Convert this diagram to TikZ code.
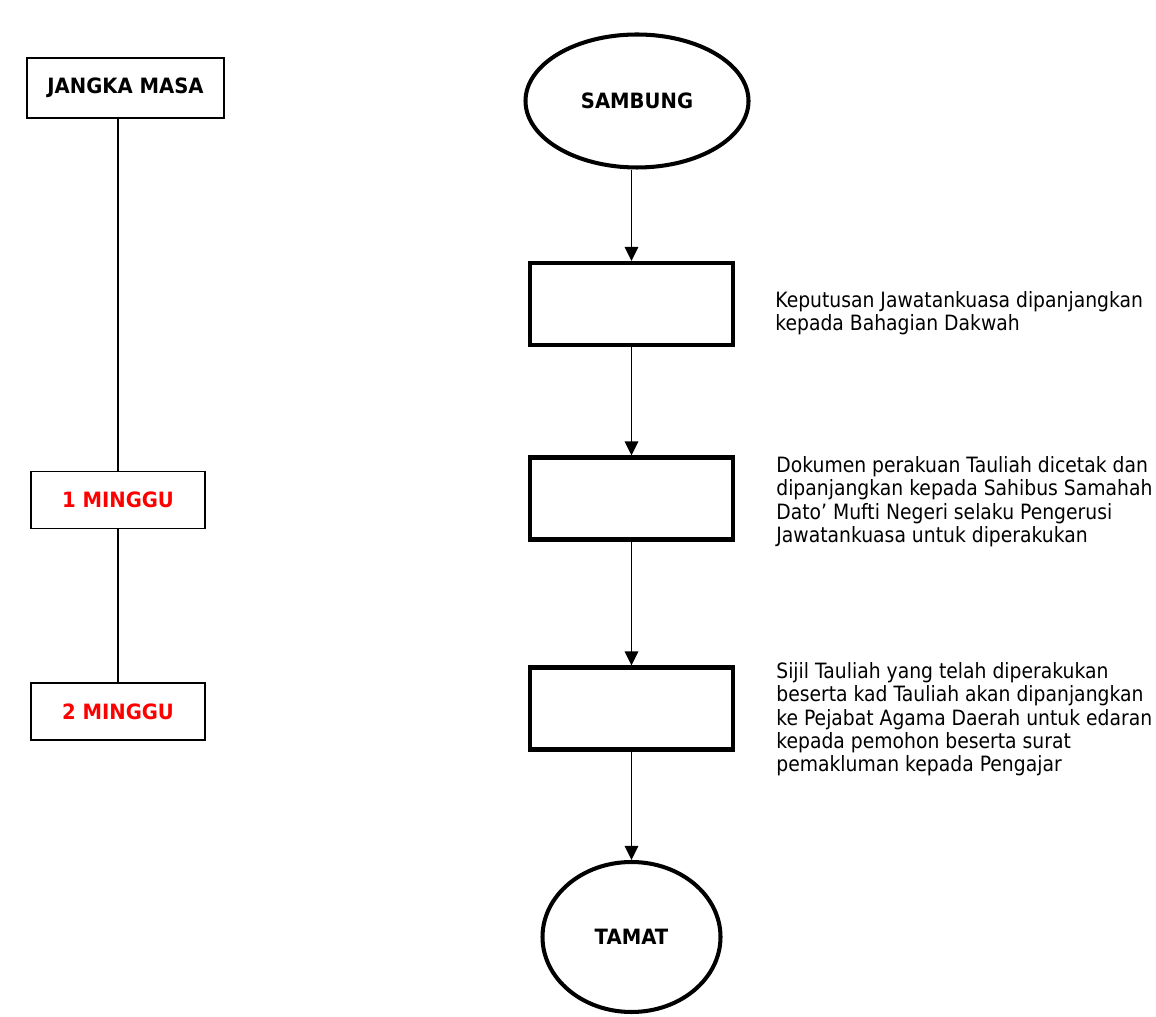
\documentclass[tikz,border=0pt]{standalone}
\usepackage{fontspec}
\setmainfont{DejaVu Sans}[FakeStretch=0.89]
\newfontfamily\labelfont{DejaVu Sans}[FakeStretch=0.93]
\usetikzlibrary{arrows.meta,shapes.geometric}

\begin{document}
\begin{tikzpicture}[
  tbox/.style={draw,line width=1.1pt,minimum width=3.48cm,minimum height=1.14cm,font=\labelfont\bfseries\fontsize{12}{14}\selectfont},
  pbox/.style={draw,line width=2.3pt,minimum width=4.06cm,minimum height=1.64cm},
  oval/.style={draw,ellipse,line width=2.3pt,font=\labelfont\bfseries\fontsize{12}{14}\selectfont},
  note/.style={anchor=north west,align=left,inner sep=0pt,font=\fontsize{12}{13.3}\selectfont},
  flow/.style={line width=0.8pt,-{Triangle[length=0.28cm,width=0.27cm]}}]%Tauliah jangka masa
\useasboundingbox (0,0) rectangle (23.12,20.32);
% left column
\node[tbox,minimum width=3.94cm,minimum height=1.2cm] (jangka) at (2.51,18.56){JANGKA MASA};
\node[tbox,text=red] (m1) at (2.36,10.32){1 MINGGU};
\node[tbox,text=red] (m2) at (2.36,6.09){2 MINGGU};
\draw[line width=0.7pt] (m1.north |- jangka.south) -- (m1.north);
\draw[line width=0.7pt] (m1) -- (m2);
% flow
\node[oval,minimum width=4.46cm,minimum height=2.66cm] (sambung) at (12.74,18.30){SAMBUNG};
\node[pbox] (p1) at (12.63,14.24){};
\node[pbox] (p2) at (12.63,10.35){};
\node[pbox] (p3) at (12.63,6.15){};
\node[oval,minimum width=3.56cm,minimum height=3.0cm] (tamat) at (12.63,1.58){TAMAT};
\draw[flow] (sambung.south -| p1.north) -- (p1.north);
\draw[flow] (p1) -- (p2);
\draw[flow] (p2) -- (p3);
\draw[flow] (p3) -- (tamat);
% notes
\node[note] (n1) at (15.5,14.5){Keputusan Jawatankuasa dipanjangkan\\kepada Bahagian Dakwah};
\node[note] (n2) at (15.52,11.2){Dokumen perakuan Tauliah dicetak dan\\dipanjangkan kepada Sahibus Samahah\\Dato’ Mufti Negeri selaku Pengerusi\\Jawatankuasa untuk diperakukan};
\node[note] (n3) at (15.52,7.08){Sijil Tauliah yang telah diperakukan\\beserta kad Tauliah akan dipanjangkan\\ke Pejabat Agama Daerah untuk edaran\\kepada pemohon beserta surat\\pemakluman kepada Pengajar};
\end{tikzpicture}
\end{document}
